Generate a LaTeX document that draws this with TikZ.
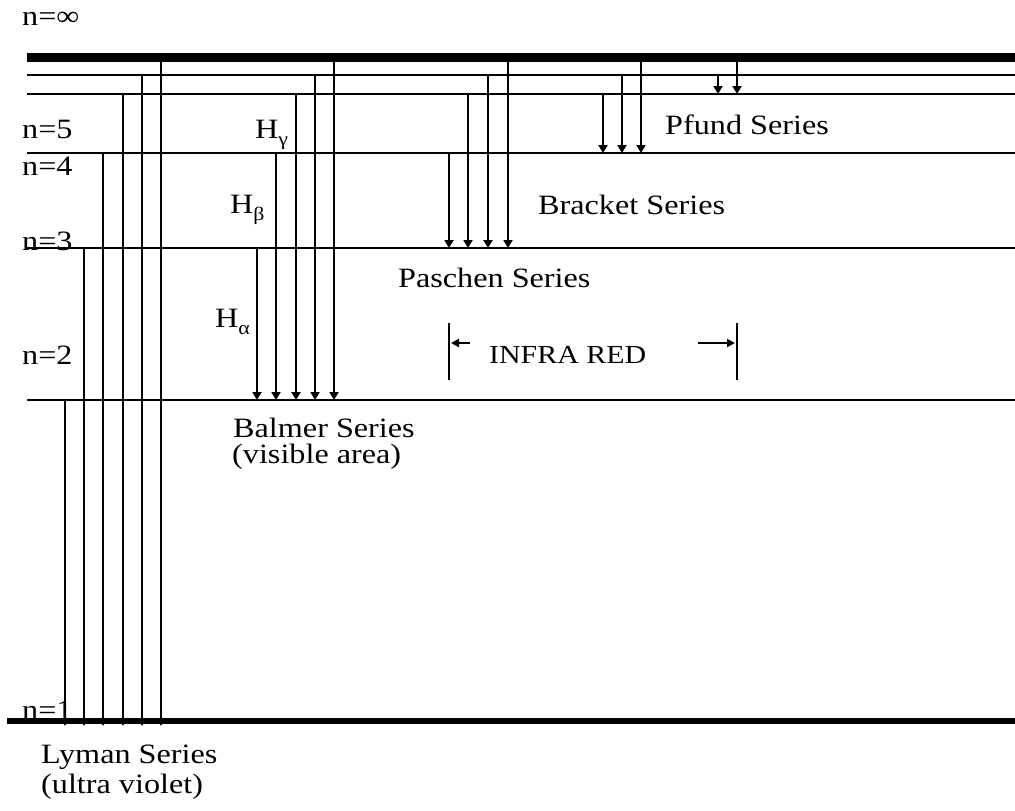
\documentclass[tikz,border=0pt]{standalone}
\usepackage{fontspec}
\setmainfont{Liberation Serif}[FakeStretch=1.15]
\usetikzlibrary{arrows.meta}
\newcommand\Hsub[1]{H\raisebox{-0.25em}{\fontsize{19}{19}\selectfont #1}}
\begin{document}
\begin{tikzpicture}[x=1pt,y=-1pt,
  level/.style={line width=2.5pt},
  thicklevel/.style={line width=9pt},
  groundlevel/.style={line width=6pt},
  trans/.style={line width=2.6pt,-{Triangle[width=9pt,length=8pt]}},
  irbar/.style={line width=2.2pt},
  irarrow/.style={line width=2pt,-{Triangle[width=8pt,length=8pt]}},
  lbl/.style={anchor=base west,inner sep=0pt,font=\fontsize{28}{32}\selectfont},
  smalllbl/.style={anchor=base west,inner sep=0pt,font=\fontsize{26}{30}\selectfont}]
\useasboundingbox (0,0) rectangle (1015,811);
% energy levels
\coordinate (Linf) at (0,57);
\coordinate (L6) at (0,75);
\coordinate (L5) at (0,94);
\coordinate (L4) at (0,153);
\coordinate (L3) at (0,248);
\coordinate (L2) at (0,400);
\coordinate (L1) at (0,721);
\coordinate (L1tip) at (0,726);
\draw[thicklevel] (27,0 |- Linf) -- (1015,0 |- Linf);
\draw[level] (27,0 |- L6) -- (1015,0 |- L6);
\draw[level] (27,0 |- L5) -- (1015,0 |- L5);
\draw[level] (27,0 |- L4) -- (1015,0 |- L4);
\draw[level] (27,0 |- L3) -- (1015,0 |- L3);
\draw[level] (27,0 |- L2) -- (1015,0 |- L2);
\draw[groundlevel] (7,0 |- L1) -- (1015,0 |- L1);
% Lyman
\draw[trans] (65,0 |- L2) -- (65,0 |- L1tip);
\draw[trans] (84,0 |- L3) -- (84,0 |- L1tip);
\draw[trans] (103,0 |- L4) -- (103,0 |- L1tip);
\draw[trans] (123,0 |- L5) -- (123,0 |- L1tip);
\draw[trans] (142,0 |- L6) -- (142,0 |- L1tip);
\draw[trans] (161,0 |- Linf) -- (161,0 |- L1tip);
% Balmer
\draw[trans] (257,0 |- L3) -- (257,0 |- L2);
\draw[trans] (276,0 |- L4) -- (276,0 |- L2);
\draw[trans] (296,0 |- L5) -- (296,0 |- L2);
\draw[trans] (315,0 |- L6) -- (315,0 |- L2);
\draw[trans] (334,0 |- Linf) -- (334,0 |- L2);
% Paschen
\draw[trans] (449,0 |- L4) -- (449,0 |- L3);
\draw[trans] (468,0 |- L5) -- (468,0 |- L3);
\draw[trans] (488,0 |- L6) -- (488,0 |- L3);
\draw[trans] (508,0 |- Linf) -- (508,0 |- L3);
% Brackett
\draw[trans] (603,0 |- L5) -- (603,0 |- L4);
\draw[trans] (622,0 |- L6) -- (622,0 |- L4);
\draw[trans] (641,0 |- Linf) -- (641,0 |- L4);
% Pfund
\draw[trans] (718,0 |- L6) -- (718,0 |- L5);
\draw[trans] (737,0 |- Linf) -- (737,0 |- L5);
% infra red marker
\coordinate (irLtop) at (449,323);
\coordinate (irLbot) at (449,380);
\coordinate (irRtop) at (737,323);
\coordinate (irRbot) at (737,380);
\coordinate (irLa) at (470,343);
\coordinate (irLb) at (451,343);
\coordinate (irRa) at (698,343);
\coordinate (irRb) at (735,343);
\draw[irbar] (irLtop) -- (irLbot);
\draw[irbar] (irRtop) -- (irRbot);
\draw[irarrow] (irLa) -- (irLb);
\draw[irarrow] (irRa) -- (irRb);
% labels
\node[lbl] (tninf) at (22,25) {n=∞};
\node[lbl] (tn5) at (22,138) {n=5};
\node[lbl] (tn4) at (22,175) {n=4};
\node[lbl] (tn3) at (22,250) {n=3};
\node[lbl] (tn2) at (22,364) {n=2};
\node[lbl] (tn1) at (22,719) {n=1};
\node[lbl] (thg) at (255,138) {\Hsub{γ}};
\node[lbl] (thb) at (230,213) {\Hsub{β}};
\node[lbl] (tha) at (215,327) {\Hsub{α}};
\node[lbl] (tpf) at (665,134) {Pfund Series};
\node[lbl] (tbr) at (538,214) {Bracket Series};
\node[lbl] (tpa) at (398,287) {Paschen Series};
\node[smalllbl] (tir) at (489,363) {INFRA RED};
\node[lbl] (tba) at (233,437) {Balmer Series};
\node[lbl] (tvis) at (232,463) {(visible area)};
\node[lbl] (tly) at (41,763) {Lyman Series};
\node[lbl] (tuv) at (41,793) {(ultra violet)};
\end{tikzpicture}
\end{document}
